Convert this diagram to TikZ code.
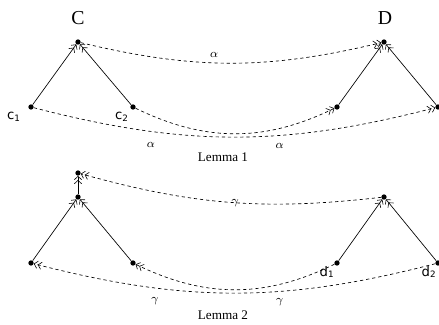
\documentclass[tikz,border=0pt]{standalone}
\usepackage{fontspec}
\setmainfont{Liberation Serif}
\newfontfamily\lblfont{DejaVu Sans}
\usetikzlibrary{positioning, arrows.meta}
\begin{document}
\begin{tikzpicture}[x=0.024cm, y=0.024cm,
  >={Straight Barb[length=2.3pt, width=5pt, line width=0.4pt]},
  pt/.style={circle, fill, inner sep=0pt, minimum size=3.6pt},
  epi/.style={->>, line width=0.45pt},
  arc/.style={->>, dash pattern=on 2.2pt off 2pt, line width=0.45pt},
  lbl/.style={font=\lblfont\fontsize{9}{10}\selectfont, inner sep=0pt},
  greek/.style={font=\footnotesize, inner sep=1pt},
  title/.style={font=\fontsize{13.5}{15}\selectfont}]
  \useasboundingbox (0,0) rectangle (439,324);
  % Lemma 1
  \node[title] (tc) at (78, 306) {C};
  \node[title] (td) at (385, 306) {D};
  \node[pt] (v1) at (78, 282) {};
  \node[pt] (v2) at (31, 217) {};
  \node[pt] (v3) at (133, 217) {};
  \node[pt] (w1) at (384, 282) {};
  \node[pt] (w2) at (337, 217) {};
  \node[pt] (w3) at (438, 217) {};
  \node[lbl] (l1) at (14, 207) {c\textsubscript{1}};
  \node[lbl] (l2) at (122, 207) {c\textsubscript{2}};
  \draw[epi] (v2) -- (v1);
  \draw[epi] (v3) -- (v1);
  \draw[epi] (w2) -- (w1);
  \draw[epi] (w3) -- (w1);
  \draw[arc] (v1) to[bend right=13.5] node[greek, pos=0.44, above=2.5pt] {$\alpha$} (w1);
  \draw[arc] (v2) to[bend right=14.5]
    node[greek, pos=0.28, below=6.5pt] {$\alpha$}
    node[greek, pos=0.62, below=4pt] {$\alpha$} (w3);
  \draw[arc] (v3) to[bend right=26] (w2);
  \node (lem1) at (223, 167) {\fontsize{9}{10}\selectfont Lemma 1};
  % Lemma 2
  \node[pt] (p0) at (78, 151) {};
  \node[pt] (p1) at (78, 127) {};
  \node[pt] (p2) at (31, 61) {};
  \node[pt] (p3) at (133, 61) {};
  \node[pt] (q1) at (384, 127) {};
  \node[pt] (q2) at (337, 61) {};
  \node[pt] (q3) at (438, 61) {};
  \node[lbl] (m1) at (327, 52) {d\textsubscript{1}};
  \node[lbl] (m2) at (429, 52) {d\textsubscript{2}};
  \draw[epi] (p1) -- (p0);
  \draw[epi] (p2) -- (p1);
  \draw[epi] (p3) -- (p1);
  \draw[epi] (q2) -- (q1);
  \draw[epi] (q3) -- (q1);
  \draw[arc] (q1) to[bend left=11] node[greek, pos=0.48] {$\gamma$} (p0);
  \draw[arc] (q3) to[bend left=14.5]
    node[greek, pos=0.38, below=3.5pt] {$\gamma$}
    node[greek, pos=0.71, below=5.5pt] {$\gamma$} (p2);
  \draw[arc] (q2) to[bend left=26] (p3);
  \node (lem2) at (223, 9) {\fontsize{9}{10}\selectfont Lemma 2};
\end{tikzpicture}
\end{document}
